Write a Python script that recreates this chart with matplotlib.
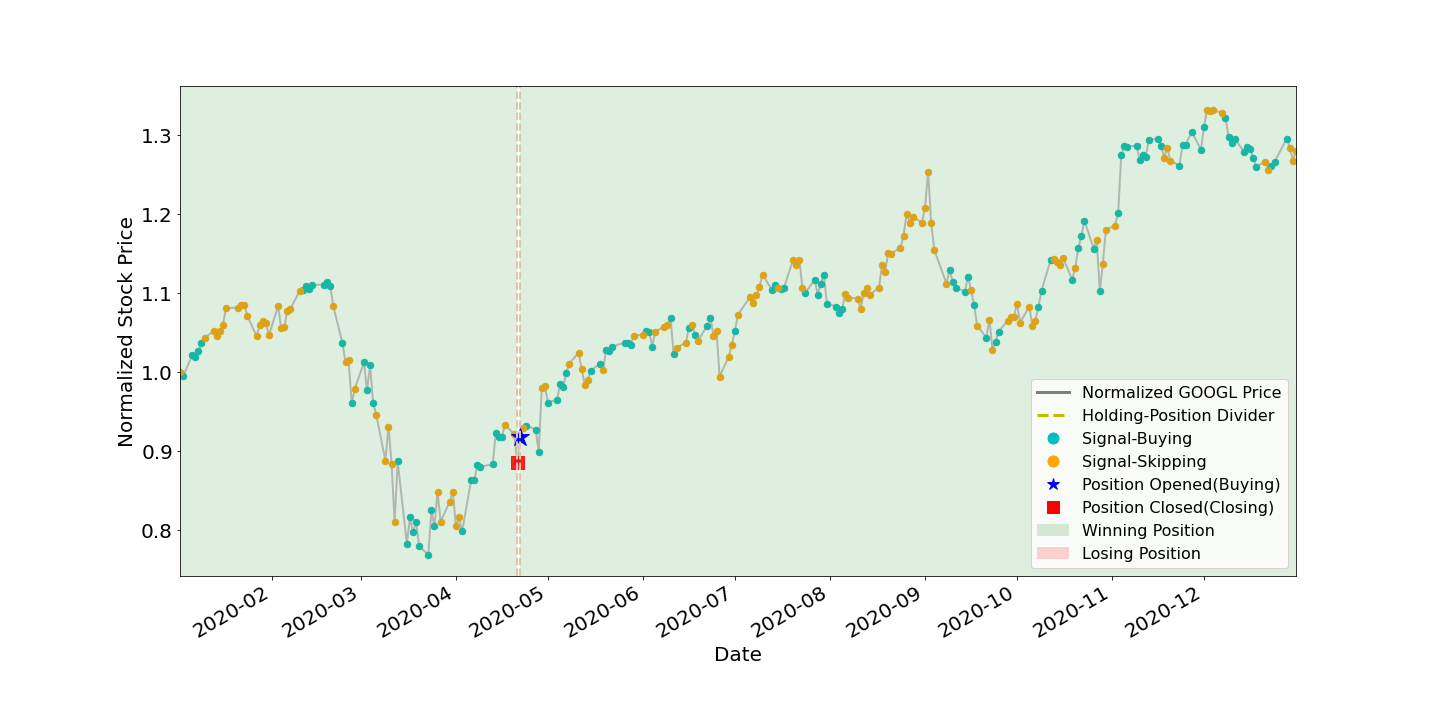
import numpy as np
import pandas as pd
import matplotlib
matplotlib.use("Agg")
import matplotlib.pyplot as plt
import matplotlib.dates as mdates
from matplotlib.lines import Line2D
from matplotlib.patches import Patch

# trading days of 2020 (NYSE holidays removed)
holidays = ["2020-01-01", "2020-01-20", "2020-02-17", "2020-04-10", "2020-05-25",
            "2020-07-03", "2020-09-07", "2020-11-26", "2020-12-25"]
dates = pd.bdate_range("2020-01-02", "2020-12-31", freq="C", holidays=holidays)

# normalized GOOGL close, month by month
jan = [1.000, 0.995, 1.0215, 1.019, 1.027, 1.037, 1.044, 1.052, 1.0456, 1.052, 1.060,
       1.081, 1.082, 1.085, 1.085, 1.071, 1.0456, 1.0595, 1.065, 1.062, 1.047]
feb = [1.0835, 1.0557, 1.057, 1.078, 1.0806, 1.1025, 1.104, 1.109, 1.105, 1.1105,
       1.111, 1.1143, 1.109, 1.0835, 1.037, 1.0125, 1.015, 0.961, 0.979]
mar = [1.0125, 0.977, 1.0087, 0.9607, 0.9465, 0.888, 0.9313, 0.8844, 0.811, 0.887,
       0.7831, 0.8161, 0.7971, 0.811, 0.7794, 0.7692, 0.825, 0.8047, 0.849, 0.811,
       0.8363, 0.849]
apr = [0.8047, 0.8161, 0.7984, 0.8642, 0.863, 0.882, 0.8806, 0.8832, 0.9237, 0.9186,
       0.9186, 0.9338, 0.9215, 0.886, 0.918, 0.929, 0.9325, 0.9275, 0.8996, 0.9806,
       0.9832]
may = [0.9617, 0.9654, 0.9857, 0.9819, 0.9996, 1.011, 1.0249, 1.0047, 0.9844, 0.9908,
       1.0022, 1.011, 1.0034, 1.0287, 1.0275, 1.0325, 1.0376, 1.0376, 1.035, 1.0465]
jun = [1.0477, 1.0528, 1.0515, 1.0325, 1.0515, 1.0579, 1.0604, 1.0692, 1.0237, 1.0313,
       1.0376, 1.0566, 1.0604, 1.0477, 1.0401, 1.0591, 1.0692, 1.0465, 1.0528, 0.9946,
       1.0199, 1.035]
jul = [1.0528, 1.073, 1.0958, 1.0882, 1.0984, 1.1085, 1.1237, 1.1047, 1.111, 1.1072,
       1.106, 1.1072, 1.1427, 1.1364, 1.1427, 1.1072, 1.1009, 1.1173, 1.0984, 1.1123,
       1.1237, 1.087]
aug = [1.0832, 1.0756, 1.0806, 1.0996, 1.0946, 1.0933, 1.0806, 1.1009, 1.1072, 1.0984,
       1.1072, 1.1364, 1.1275, 1.1515, 1.1503, 1.1579, 1.173, 1.201, 1.1895, 1.1971,
       1.1895]
sep = [1.2085, 1.254, 1.1895, 1.1553, 1.1123, 1.13, 1.1148, 1.1072, 1.1022, 1.1211,
       1.1047, 1.0857, 1.0591, 1.0439, 1.0667, 1.0287, 1.0389, 1.0516, 1.0654, 1.0705,
       1.0705]
octo = [1.087, 1.0629, 1.0832, 1.0591, 1.0654, 1.0832, 1.1034, 1.1427, 1.144, 1.1401,
        1.1364, 1.1452, 1.1173, 1.1325, 1.1579, 1.173, 1.192, 1.1566, 1.168, 1.1034,
        1.1376, 1.1806]
nov = [1.1857, 1.2021, 1.2756, 1.287, 1.2857, 1.287, 1.2692, 1.2756, 1.273, 1.2945,
       1.2958, 1.287, 1.2718, 1.2844, 1.268, 1.2616, 1.2882, 1.2882, 1.3047, 1.2819]
dec = [1.311, 1.3325, 1.3313, 1.3325, 1.3278, 1.3224, 1.2984, 1.2908, 1.2958, 1.2794,
       1.2857, 1.2832, 1.2718, 1.2604, 1.2667, 1.2566, 1.2616, 1.2667, 1.2958, 1.2844,
       1.268, 1.2806]

# c = signal buying, o = signal skipping (one string per month)
signals = [
    "o ccccc ooooooooooooooo",
    "oooooo ccccccc o c oo c o",
    "cccc ooooo ccccccccc oooo",
    "oo ccccccccc oo cc o ccc oo",
    "ccccc ooooo cc o cccccc o",
    "o ccc ooo cc oo c o c o cc ooooo",
    "c oooooo cc o cc oooo cccccc",
    "ccc oooooooooooooooooo",
    "ooooo ccccc o c o c oo cc ooo",
    "ooooo ccc oooo c o cccc o c oo",
    "o ccccccccccc ooo ccccc",
    "c oooo ccccccccc oo ccc ooo",
]

open_date, close_date = "2020-04-22", "2020-04-21"

price = np.array(jan + feb + mar + apr + may + jun + jul + aug + sep + octo + nov + dec)
sig = np.array(list("".join(signals).replace(" ", "")))


def main():
    fig, ax = plt.subplots(figsize=(20, 10), dpi=72)

    d_close = pd.Timestamp(close_date)
    d_open = pd.Timestamp(open_date)

    # winning spans; divider lines above the markers but below the spines
    ax.axvspan(dates[0], d_close, color="green", alpha=0.125, lw=0)
    ax.axvspan(d_open, dates[-1], color="green", alpha=0.125, lw=0)
    ax.axvline(d_close, color="#dcc6a4", ls="--", lw=2, zorder=2.4)
    ax.axvline(d_open, color="#dcc6a4", ls="--", lw=2, zorder=2.4)

    ax.plot(dates, price, color="gray", alpha=0.5, lw=2, zorder=1.5)
    buy = sig == "c"
    ax.scatter(dates[buy], price[buy], s=42, color="#17b6a7", zorder=2)
    ax.scatter(dates[~buy], price[~buy], s=42, color="#dca318", zorder=2)

    i_open = dates.get_loc(d_open)
    i_close = dates.get_loc(d_close)
    ax.plot(dates[i_open], price[i_open], "b*", ms=19, zorder=2.2)
    ax.plot(dates[i_close], price[i_close], "rs", ms=13, alpha=0.85, zorder=2.2)

    ax.set_xlim(dates[0], dates[-1])
    ax.set_ylim(0.742, 1.362)
    ax.xaxis.set_major_locator(mdates.MonthLocator(bymonth=range(2, 13)))
    ax.xaxis.set_major_formatter(mdates.DateFormatter("%Y-%m"))
    ax.tick_params(labelsize=20)
    ax.set_xlabel("Date", fontsize=20)
    ax.set_ylabel("Normalized Stock Price", fontsize=20)
    fig.autofmt_xdate()
    fig.subplots_adjust(left=0.125, right=0.9, top=0.88, bottom=0.2)

    handles = [
        Line2D([], [], color="gray", lw=3),
        Line2D([], [], color="y", ls="--", lw=3),
        Line2D([], [], color="c", marker="o", ls="", ms=11),
        Line2D([], [], color="orange", marker="o", ls="", ms=11),
        Line2D([], [], color="b", marker="*", ls="", ms=13),
        Line2D([], [], color="r", marker="s", ls="", ms=12),
        Patch(facecolor="green", alpha=0.15),
        Patch(facecolor="red", alpha=0.17),
    ]
    labels = ["Normalized GOOGL Price", "Holding-Position Divider", "Signal-Buying",
              "Signal-Skipping", "Position Opened(Buying)", "Position Closed(Closing)",
              "Winning Position", "Losing Position"]
    ax.legend(handles, labels, loc="lower right", fontsize=16)

    fig.savefig("out.png")


if __name__ == "__main__":
    main()
